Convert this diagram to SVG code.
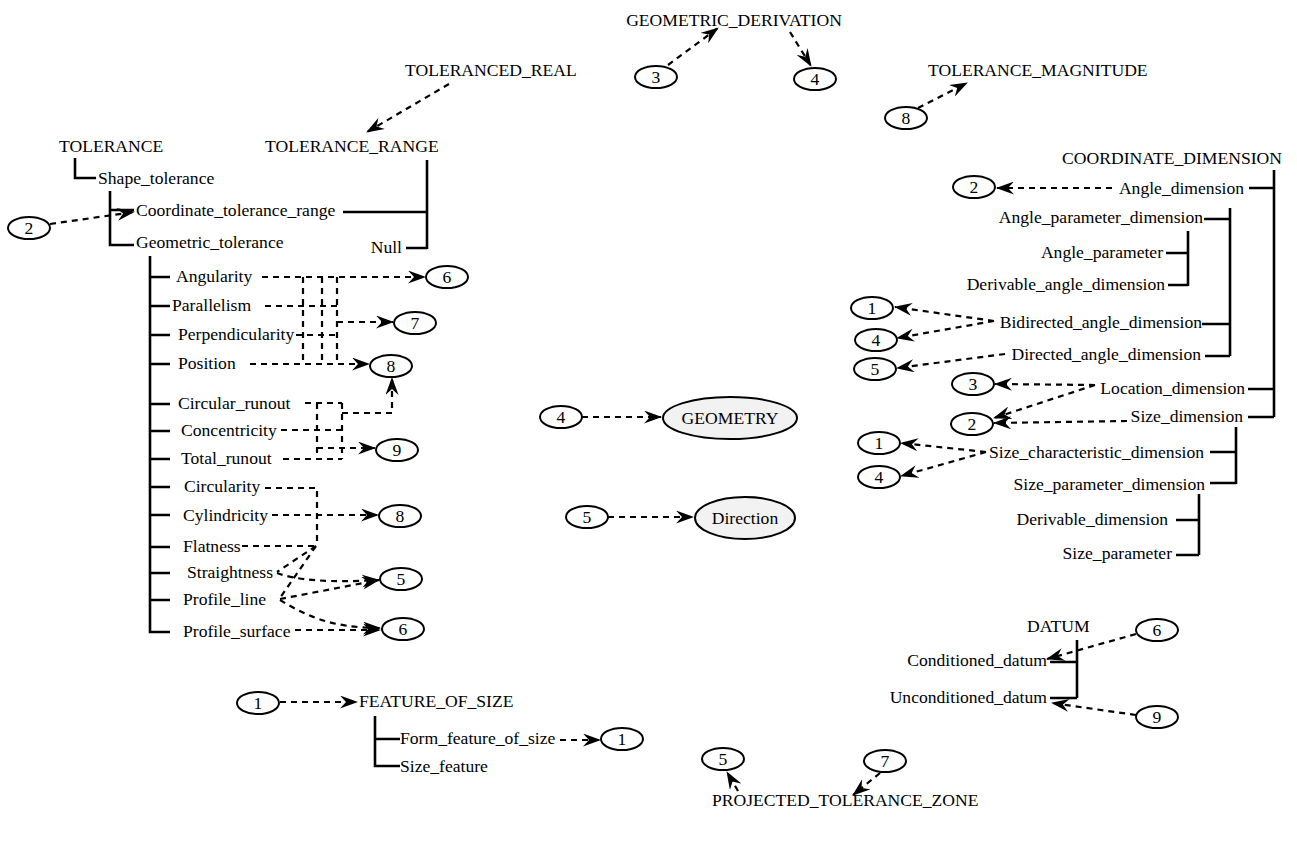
<svg xmlns="http://www.w3.org/2000/svg" width="1297" height="845" viewBox="0 0 1297 845">
<defs>
<marker id="ah" viewBox="0 0 18 13" refX="17" refY="6.5" markerWidth="18" markerHeight="13" orient="auto" markerUnits="userSpaceOnUse"><path d="M0,0 L18,6.5 L0,13 L6,6.5 Z" fill="#000"/></marker>
</defs>
<style>
text{font-family:"Liberation Serif","Times New Roman",serif;font-size:17.6px;fill:#000}
.n{text-anchor:middle}
.e{text-anchor:end}
.t{fill:none;stroke:#000;stroke-width:2.6}
.d{fill:none;stroke:#000;stroke-width:2.2;stroke-dasharray:6 5}
.a{marker-end:url(#ah)}
.o{fill:#fff;stroke:#000;stroke-width:2}
.g{fill:#f2f2f2;stroke:#000;stroke-width:2}
</style>
<rect width="1297" height="845" fill="#fff"/>

<g id="connectors">
<path class="t" d="M75,158 V178 H96"/>
<path class="t" d="M110,191 V245 H134 M110,210 H134"/>
<path class="t" d="M343,212 H427 M427,160 V249 M406,248 H427"/>
<path class="t" d="M150,256 V632 H170 M150,277 H170 M150,306 H170 M150,335 H170 M150,364 H170 M150,404 H170 M150,431 H170 M150,459 H170 M150,487 H170 M150,515 H170 M150,547 H170 M150,573 H170 M150,600 H170"/>
<path class="t" d="M1274,170 V417 M1249,188 H1274 M1248,389 H1274 M1248,417 H1274"/>
<path class="t" d="M1230,208 V356 M1204,219 H1230 M1202,324 H1230 M1205,356 H1230"/>
<path class="t" d="M1188,231 V286 M1166,253 H1188 M1168,285 H1188"/>
<path class="t" d="M1236,427 V484 M1210,452 H1236 M1210,483 H1236"/>
<path class="t" d="M1199,494 V555 M1176,520 H1199 M1176,555 H1199"/>
<path class="t" d="M1077,640 V698 M1050,662 H1077 M1050,698 H1077"/>
<path class="t" d="M375,716 V766 H400 M375,739 H400"/>

<path class="d a" d="M50,224 L134,212"/>
<path class="d a" d="M449,84 L367,132"/>
<path class="d a" d="M668,65 L718,28"/>
<path class="d a" d="M790,32 L811,66"/>
<path class="d a" d="M918,108 L967,83"/>

<path class="d a" d="M262,277 H425"/>
<path class="d" d="M265,306 H337 M296,335 H337 M303,277 V364 M322,277 V364 M337,277 V364"/>
<path class="d a" d="M250,364 H369"/>
<path class="d a" d="M337,322 H393"/>
<path class="d" d="M305,403 H342 M281,430 H342 M283,459 H342 M317,403 V459 M342,403 V459"/>
<path class="d a" d="M342,413 H392 V378"/>
<path class="d a" d="M317,448 H375"/>
<path class="d" d="M265,488 H317 V546 M242,546 H317 M316,546 L277,572 M316,546 L280,598"/>
<path class="d a" d="M272,515 H378"/>
<path class="d a" d="M277,573 C295,580 330,583 379,580"/>
<path class="d a" d="M280,599 L379,580"/>
<path class="d a" d="M280,600 C305,615 330,628 380,628"/>
<path class="d a" d="M295,630 H380"/>

<path class="d a" d="M582,417 H661"/>
<path class="d a" d="M608,517 H693"/>

<path class="d a" d="M1112,188 H997"/>
<path class="d a" d="M994,321 L895,307"/>
<path class="d a" d="M994,321 L897,338"/>
<path class="d a" d="M1005,354 L897,368"/>
<path class="d a" d="M1095,385 L995,384"/>
<path class="d a" d="M1095,385 L994,418"/>
<path class="d a" d="M1127,421 L994,423"/>
<path class="d a" d="M986,452 L901,443"/>
<path class="d a" d="M986,452 L901,476"/>

<path class="d a" d="M1136,634 L1047,659"/>
<path class="d a" d="M1136,715 L1052,703"/>
<path class="d a" d="M280,702 H357"/>
<path class="d a" d="M560,740 H600"/>
<path class="d a" d="M738,791 L727,772"/>
<path class="d a" d="M880,773 L853,795"/>
</g>

<g id="GEOMETRIC_DERIVATION"><text class="n" x="734" y="26">GEOMETRIC_DERIVATION</text></g>
<g id="TOLERANCED_REAL"><text x="405" y="76">TOLERANCED_REAL</text></g>
<g id="TOLERANCE_MAGNITUDE"><text x="928" y="76">TOLERANCE_MAGNITUDE</text></g>
<g id="TOLERANCE"><text x="59" y="152">TOLERANCE</text></g>
<g id="TOLERANCE_RANGE"><text x="265" y="152">TOLERANCE_RANGE</text></g>
<g id="Shape_tolerance"><text x="98" y="184">Shape_tolerance</text></g>
<g id="Coordinate_tolerance_range"><text x="136" y="216">Coordinate_tolerance_range</text></g>
<g id="Geometric_tolerance"><text x="136" y="248">Geometric_tolerance</text></g>
<g id="Null"><text class="e" x="402" y="253">Null</text></g>
<g id="Angularity"><text x="176" y="282">Angularity</text></g>
<g id="Parallelism"><text x="172" y="311">Parallelism</text></g>
<g id="Perpendicularity"><text x="178" y="340">Perpendicularity</text></g>
<g id="Position"><text x="178" y="369">Position</text></g>
<g id="Circular_runout"><text x="178" y="409">Circular_runout</text></g>
<g id="Concentricity"><text x="181" y="436">Concentricity</text></g>
<g id="Total_runout"><text x="181" y="464">Total_runout</text></g>
<g id="Circularity"><text x="184" y="492">Circularity</text></g>
<g id="Cylindricity"><text x="183" y="521">Cylindricity</text></g>
<g id="Flatness"><text x="183" y="552">Flatness</text></g>
<g id="Straightness"><text x="187" y="578">Straightness</text></g>
<g id="Profile_line"><text x="183" y="605">Profile_line</text></g>
<g id="Profile_surface"><text x="183" y="637">Profile_surface</text></g>

<g id="COORDINATE_DIMENSION"><text class="e" x="1282" y="164">COORDINATE_DIMENSION</text></g>
<g id="Angle_dimension"><text class="e" x="1244" y="194">Angle_dimension</text></g>
<g id="Angle_parameter_dimension"><text class="e" x="1203" y="223">Angle_parameter_dimension</text></g>
<g id="Angle_parameter"><text class="e" x="1163" y="258">Angle_parameter</text></g>
<g id="Derivable_angle_dimension"><text class="e" x="1165" y="290">Derivable_angle_dimension</text></g>
<g id="Bidirected_angle_dimension"><text class="e" x="1202" y="328">Bidirected_angle_dimension</text></g>
<g id="Directed_angle_dimension"><text class="e" x="1201" y="360">Directed_angle_dimension</text></g>
<g id="Location_dimension"><text class="e" x="1245" y="394">Location_dimension</text></g>
<g id="Size_dimension"><text class="e" x="1243" y="422">Size_dimension</text></g>
<g id="Size_characteristic_dimension"><text class="e" x="1204" y="458">Size_characteristic_dimension</text></g>
<g id="Size_parameter_dimension"><text class="e" x="1205" y="490">Size_parameter_dimension</text></g>
<g id="Derivable_dimension"><text class="e" x="1168" y="525">Derivable_dimension</text></g>
<g id="Size_parameter"><text class="e" x="1172" y="559">Size_parameter</text></g>

<g id="DATUM"><text x="1027" y="632">DATUM</text></g>
<g id="Conditioned_datum"><text class="e" x="1047" y="666">Conditioned_datum</text></g>
<g id="Unconditioned_datum"><text class="e" x="1047" y="703">Unconditioned_datum</text></g>
<g id="FEATURE_OF_SIZE"><text x="359" y="707">FEATURE_OF_SIZE</text></g>
<g id="Form_feature_of_size"><text x="400" y="744">Form_feature_of_size</text></g>
<g id="Size_feature"><text x="400" y="772">Size_feature</text></g>
<g id="PROJECTED_TOLERANCE_ZONE"><text x="712" y="806">PROJECTED_TOLERANCE_ZONE</text></g>

<g id="GEOMETRY"><ellipse class="g" cx="730" cy="418" rx="67" ry="21"/><text class="n" x="730" y="424">GEOMETRY</text></g>
<g id="Direction"><ellipse class="g" cx="745" cy="518" rx="50" ry="21"/><text class="n" x="745" y="524">Direction</text></g>

<g id="ref2a"><ellipse class="o" cx="29" cy="228" rx="21" ry="11"/><text class="n" x="29" y="234">2</text></g>
<g id="ref3top"><ellipse class="o" cx="656" cy="77" rx="21" ry="11"/><text class="n" x="656" y="83">3</text></g>
<g id="ref4top"><ellipse class="o" cx="815" cy="79" rx="21" ry="11"/><text class="n" x="815" y="85">4</text></g>
<g id="ref8top"><ellipse class="o" cx="906" cy="118" rx="21" ry="11"/><text class="n" x="906" y="124">8</text></g>
<g id="ref6a"><ellipse class="o" cx="447" cy="277" rx="21" ry="11"/><text class="n" x="447" y="283">6</text></g>
<g id="ref7a"><ellipse class="o" cx="415" cy="323" rx="21" ry="11"/><text class="n" x="415" y="329">7</text></g>
<g id="ref8a"><ellipse class="o" cx="391" cy="366" rx="21" ry="11"/><text class="n" x="391" y="372">8</text></g>
<g id="ref9a"><ellipse class="o" cx="397" cy="450" rx="21" ry="11"/><text class="n" x="397" y="456">9</text></g>
<g id="ref8b"><ellipse class="o" cx="400" cy="516" rx="21" ry="11"/><text class="n" x="400" y="522">8</text></g>
<g id="ref5a"><ellipse class="o" cx="401" cy="579" rx="21" ry="11"/><text class="n" x="401" y="585">5</text></g>
<g id="ref6b"><ellipse class="o" cx="403" cy="629" rx="21" ry="11"/><text class="n" x="403" y="635">6</text></g>
<g id="ref4c"><ellipse class="o" cx="561" cy="417" rx="21" ry="11"/><text class="n" x="561" y="423">4</text></g>
<g id="ref5c"><ellipse class="o" cx="587" cy="517" rx="21" ry="11"/><text class="n" x="587" y="523">5</text></g>
<g id="ref2b"><ellipse class="o" cx="974" cy="187" rx="21" ry="11"/><text class="n" x="974" y="193">2</text></g>
<g id="ref1a"><ellipse class="o" cx="872" cy="308" rx="21" ry="11"/><text class="n" x="872" y="314">1</text></g>
<g id="ref4a"><ellipse class="o" cx="876" cy="340" rx="21" ry="11"/><text class="n" x="876" y="346">4</text></g>
<g id="ref5b"><ellipse class="o" cx="875" cy="369" rx="21" ry="11"/><text class="n" x="875" y="375">5</text></g>
<g id="ref3b"><ellipse class="o" cx="973" cy="384" rx="21" ry="11"/><text class="n" x="973" y="390">3</text></g>
<g id="ref2c"><ellipse class="o" cx="972" cy="424" rx="21" ry="11"/><text class="n" x="972" y="430">2</text></g>
<g id="ref1b"><ellipse class="o" cx="879" cy="443" rx="21" ry="11"/><text class="n" x="879" y="449">1</text></g>
<g id="ref4b"><ellipse class="o" cx="879" cy="477" rx="21" ry="11"/><text class="n" x="879" y="483">4</text></g>
<g id="ref6c"><ellipse class="o" cx="1157" cy="630" rx="21" ry="11"/><text class="n" x="1157" y="636">6</text></g>
<g id="ref9b"><ellipse class="o" cx="1157" cy="717" rx="21" ry="11"/><text class="n" x="1157" y="723">9</text></g>
<g id="ref1c"><ellipse class="o" cx="258" cy="703" rx="21" ry="11"/><text class="n" x="258" y="709">1</text></g>
<g id="ref1d"><ellipse class="o" cx="622" cy="739" rx="21" ry="11"/><text class="n" x="622" y="745">1</text></g>
<g id="ref5d"><ellipse class="o" cx="723" cy="759" rx="21" ry="11"/><text class="n" x="723" y="765">5</text></g>
<g id="ref7b"><ellipse class="o" cx="885" cy="761" rx="21" ry="11"/><text class="n" x="885" y="767">7</text></g>
</svg>
